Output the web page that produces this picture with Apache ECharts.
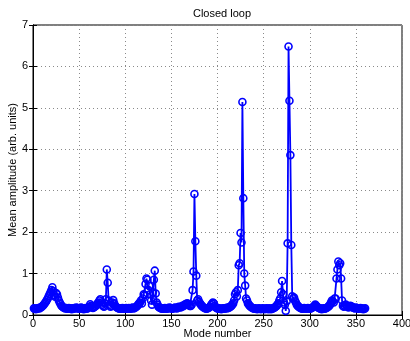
<!DOCTYPE html>
<html>
<head>
<meta charset="utf-8">
<script src="https://cdn.jsdelivr.net/npm/echarts@6/dist/echarts.min.js"></script>
<style>html,body{margin:0;padding:0;background:#fff}#c{width:410px;height:341px}</style>
</head>
<body>
<div id="c"></div>
<script>
var titleText = "Closed loop";
var xLabel = "Mode number";
var yLabel = "Mean amplitude (arb. units)";
var firstMode = 1;
// mean amplitude for modes 1..360
var amplitude = [
0.16,0.15,0.14,0.15,0.16,0.17,0.16,0.18,0.19,0.21,
0.23,0.26,0.29,0.32,0.36,0.40,0.45,0.50,0.55,0.60,
0.67,0.58,0.48,0.44,0.53,0.50,0.42,0.35,0.30,0.26,
0.22,0.20,0.18,0.17,0.16,0.17,0.15,0.16,0.17,0.16,
0.15,0.14,0.16,0.15,0.17,0.16,0.18,0.17,0.16,0.15,
0.16,0.18,0.17,0.15,0.14,0.16,0.17,0.15,0.16,0.18,
0.20,0.26,0.22,0.18,0.17,0.19,0.20,0.22,0.24,0.28,
0.30,0.35,0.38,0.30,0.25,0.22,0.20,0.28,0.38,1.10,
0.78,0.35,0.25,0.20,0.22,0.30,0.36,0.28,0.22,0.20,
0.18,0.17,0.16,0.15,0.16,0.15,0.17,0.16,0.15,0.16,
0.17,0.15,0.16,0.17,0.16,0.15,0.17,0.18,0.16,0.17,
0.18,0.20,0.22,0.25,0.28,0.30,0.35,0.28,0.40,0.50,
0.48,0.75,0.88,0.85,0.60,0.70,0.50,0.35,0.25,0.55,
0.85,1.07,0.52,0.30,0.25,0.20,0.18,0.17,0.16,0.15,
0.16,0.15,0.17,0.16,0.15,0.17,0.16,0.18,0.17,0.16,
0.15,0.16,0.17,0.18,0.17,0.16,0.18,0.20,0.19,0.18,
0.20,0.22,0.21,0.24,0.26,0.25,0.28,0.27,0.25,0.22,
0.22,0.25,0.60,1.05,2.92,1.78,0.95,0.35,0.38,0.32,
0.28,0.25,0.22,0.20,0.18,0.17,0.16,0.15,0.16,0.17,
0.18,0.20,0.24,0.27,0.30,0.28,0.22,0.19,0.17,0.16,
0.15,0.16,0.15,0.14,0.15,0.16,0.15,0.16,0.17,0.16,
0.18,0.17,0.19,0.20,0.22,0.25,0.28,0.35,0.50,0.55,
0.45,0.60,1.20,1.25,1.98,1.75,5.14,2.82,1.00,0.71,
0.40,0.35,0.28,0.25,0.22,0.20,0.18,0.17,0.16,0.15,
0.16,0.15,0.14,0.15,0.16,0.15,0.14,0.15,0.16,0.15,
0.14,0.15,0.16,0.15,0.14,0.16,0.15,0.14,0.15,0.16,
0.17,0.18,0.20,0.22,0.25,0.28,0.35,0.40,0.55,0.82,
0.50,0.30,0.25,0.10,0.33,1.73,6.48,5.17,3.86,1.69,
0.45,0.40,0.42,0.35,0.30,0.25,0.22,0.20,0.18,0.17,
0.16,0.15,0.16,0.17,0.16,0.15,0.16,0.17,0.16,0.15,
0.16,0.17,0.18,0.20,0.22,0.25,0.22,0.20,0.18,0.17,
0.16,0.15,0.14,0.15,0.16,0.15,0.16,0.17,0.18,0.20,
0.22,0.25,0.30,0.35,0.33,0.30,0.40,0.40,0.88,1.10,
1.29,1.20,1.25,0.88,0.35,0.22,0.20,0.22,0.25,0.22,
0.20,0.18,0.20,0.22,0.21,0.19,0.18,0.17,0.16,0.18,
0.17,0.16,0.15,0.16,0.17,0.16,0.15,0.14,0.15,0.16
];
var xTicks = [0,50,100,150,200,250,300,350,400];
var yTicks = [0,1,2,3,4,5,6,7];

var seriesData = amplitude.map(function(v,i){ return [firstMode + i, v]; });
var font = "Liberation Sans, Arial, sans-serif";
var chart = echarts.init(document.getElementById('c'), null, {renderer:'canvas'});
var gridLine = {show:true, lineStyle:{color:'#8a8a8a', type:[1,3], width:1}};
chart.setOption({
  animation:false,
  title:{text:titleText, left:217, top:3, textAlign:'center',
    textStyle:{fontFamily:font, fontSize:11, fontWeight:'normal', color:'#000'}},
  grid:{left:33, right:8, top:25, bottom:26, containLabel:false, outerBoundsMode:'none',
    show:true, borderColor:'#000', borderWidth:1, backgroundColor:'transparent'},
  xAxis:[{type:'value', min:xTicks[0], max:xTicks[xTicks.length-1], interval:50,
    name:xLabel, nameLocation:'middle', nameGap:13, nameMoveOverlap:false,
    nameTextStyle:{fontFamily:font, fontSize:11, color:'#000', verticalAlign:'top'},
    axisLine:{show:true, lineStyle:{color:'#000'}},
    axisTick:{show:true, inside:true, length:4, lineStyle:{color:'#000'}},
    axisLabel:{fontFamily:font, fontSize:11, color:'#000', margin:3},
    splitLine:gridLine},
   {type:'value', position:'top', min:0, max:400, interval:50,
    axisLine:{show:true, lineStyle:{color:'#000'}},
    axisTick:{show:true, inside:true, length:4, lineStyle:{color:'#000'}},
    axisLabel:{show:false}, splitLine:{show:false}}],
  yAxis:[{type:'value', min:yTicks[0], max:yTicks[yTicks.length-1], interval:1,
    name:yLabel, nameLocation:'middle', nameGap:15, nameMoveOverlap:false,
    nameTextStyle:{fontFamily:font, fontSize:11, color:'#000'},
    axisLine:{show:true, lineStyle:{color:'#000'}},
    axisTick:{show:true, inside:true, length:4, lineStyle:{color:'#000'}},
    axisLabel:{fontFamily:font, fontSize:11, color:'#000', margin:5},
    splitLine:gridLine},
   {type:'value', position:'right', min:0, max:7, interval:1,
    axisLine:{show:true, lineStyle:{color:'#000'}},
    axisTick:{show:true, inside:true, length:4, lineStyle:{color:'#000'}},
    axisLabel:{show:false}, splitLine:{show:false}}],
  series:[{type:'line', data:seriesData, xAxisIndex:0, yAxisIndex:0,
    symbol:'circle', symbolSize:7, showAllSymbol:true,
    lineStyle:{color:'#0000ff', width:1.8},
    itemStyle:{color:'rgba(255,255,255,0)', borderColor:'#0000ff', borderWidth:1.6}}]
});
</script>
</body>
</html>
